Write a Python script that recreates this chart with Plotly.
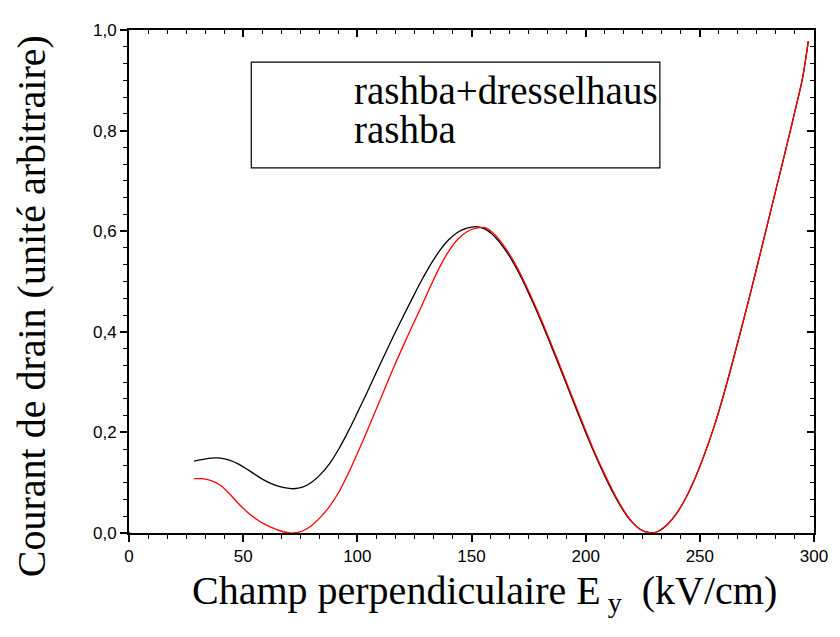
import plotly.graph_objects as go

# Drain current versus perpendicular field, two spin-orbit models
names = ["rashba+dresselhaus", "rashba"]
colors = ["#000000", "#ff0000"]

ey_rd = [28.5, 32, 36, 40, 44, 48, 52, 56, 60, 64, 68, 72, 76, 80, 84, 88, 92,
         96, 100, 104, 108, 112, 116, 120, 124, 128, 132, 136, 140, 144, 148,
         152, 156, 160, 164, 168, 172, 176, 180, 184, 188, 192, 196, 200, 204,
         208, 212, 216, 220, 224, 228.5, 232, 236, 240, 244, 248, 252, 256, 260,
         264, 268, 272, 276, 280, 284, 288, 292, 295, 297.5]
i_rd = [0.143, 0.146, 0.149, 0.149, 0.145, 0.137, 0.126, 0.114, 0.103, 0.095,
        0.090, 0.088, 0.091, 0.101, 0.117, 0.139, 0.168, 0.202, 0.239, 0.277,
        0.316, 0.355, 0.393, 0.430, 0.466, 0.501, 0.533, 0.561, 0.583, 0.598,
        0.606, 0.609, 0.604, 0.590, 0.568, 0.540, 0.506, 0.467, 0.426, 0.382,
        0.337, 0.291, 0.245, 0.200, 0.157, 0.117, 0.080, 0.048, 0.023, 0.007,
        0.000, 0.004, 0.018, 0.040, 0.071, 0.110, 0.156, 0.208, 0.268, 0.334,
        0.403, 0.474, 0.547, 0.621, 0.695, 0.769, 0.845, 0.905, 0.978]

ey_r = [28.5, 32, 36, 40, 44, 48, 52, 56, 60, 64, 68, 72, 76, 80, 84, 88, 92,
        96, 100, 104, 108, 112, 116, 120, 124, 128, 132, 136, 140, 144, 148,
        152, 156, 160, 164, 168, 172, 176, 180, 184, 188, 192, 196, 200, 204,
        208, 212, 216, 220, 224, 228.5, 232, 236, 240, 244, 248, 252, 256, 260,
        264, 268, 272, 276, 280, 284, 288, 292, 295, 297.5]
i_r = [0.108, 0.108, 0.104, 0.095, 0.078, 0.058, 0.041, 0.027, 0.016, 0.008,
       0.002, 0.000, 0.004, 0.015, 0.032, 0.054, 0.082, 0.118, 0.158, 0.200,
       0.243, 0.287, 0.330, 0.371, 0.411, 0.450, 0.490, 0.528, 0.560, 0.584,
       0.599, 0.606, 0.607, 0.594, 0.572, 0.544, 0.510, 0.471, 0.430, 0.386,
       0.341, 0.295, 0.249, 0.204, 0.160, 0.120, 0.083, 0.050, 0.024, 0.007,
       0.000, 0.004, 0.018, 0.040, 0.071, 0.110, 0.156, 0.208, 0.268, 0.334,
       0.403, 0.474, 0.547, 0.621, 0.695, 0.769, 0.845, 0.905, 0.978]

# stray origin point of the rashba set
origin_x = [0]
origin_y = [0]

x_ticks = [0, 50, 100, 150, 200, 250, 300]
y_ticks = [0.0, 0.2, 0.4, 0.6, 0.8, 1.0]

x_title = "Champ perpendiculaire E<sub> y</sub>  (kV/cm)"
y_title = "Courant de drain (unité arbitraire)"

SERIF = "Liberation Serif, Times New Roman, serif"
SANS = "Liberation Sans, Arial, sans-serif"

fig = go.Figure()
for xs, ys, name, col in [(ey_rd, i_rd, names[0], colors[0]),
                          (ey_r, i_r, names[1], colors[1])]:
    fig.add_trace(go.Scatter(x=xs, y=ys, mode="lines", name=name,
                             line=dict(color=col, width=1.3, shape="spline",
                                       smoothing=1.0),
                             showlegend=False))
fig.add_trace(go.Scatter(x=origin_x, y=origin_y, mode="markers",
                         marker=dict(color=colors[1], size=3),
                         cliponaxis=False, showlegend=False, hoverinfo="skip"))

# empty trace that carries the top/right frame axes
fig.add_trace(go.Scatter(x=[None], y=[None], xaxis="x2", yaxis="y2",
                         showlegend=False, hoverinfo="skip"))

tick_font = dict(family=SANS, size=17, color="#000")
minor_out = dict(ticks="outside", ticklen=4, tickwidth=1.2, tickcolor="#000",
                 showgrid=False)
minor_in = dict(ticks="inside", ticklen=4, tickwidth=1.2, tickcolor="#000",
                showgrid=False)

fig.update_layout(
    width=840, height=637,
    margin=dict(l=129, r=18, t=30, b=104),
    paper_bgcolor="white", plot_bgcolor="white",
    separators=", ",
    xaxis=dict(range=[0, 300], tickvals=x_ticks, ticks="outside", ticklen=7,
               tickwidth=1.5, tickcolor="#000", showline=True, linewidth=2,
               linecolor="#000", showgrid=False, zeroline=False,
               tickfont=tick_font, minor=dict(dtick=50 / 6, tick0=0, **minor_out)),
    yaxis=dict(range=[0, 1.0], tickvals=y_ticks, tickformat=".1f",
               ticks="outside", ticklen=7, tickwidth=1.5, tickcolor="#000",
               showline=True, linewidth=2, linecolor="#000", showgrid=False,
               zeroline=False, tickfont=tick_font,
               minor=dict(dtick=0.2 / 6, tick0=0, **minor_out)),
    xaxis2=dict(range=[0, 300], overlaying="x", side="top", anchor="y2",
                tickvals=x_ticks, ticks="inside", ticklen=7, tickwidth=1.5,
                tickcolor="#000", showticklabels=False, showline=True,
                linewidth=2, linecolor="#000", showgrid=False, zeroline=False,
                minor=dict(dtick=50 / 6, tick0=0, **minor_in)),
    yaxis2=dict(range=[0, 1.0], overlaying="y", side="right", anchor="x2",
                tickvals=y_ticks, ticks="inside", ticklen=7, tickwidth=1.5,
                tickcolor="#000", showticklabels=False, showline=True,
                linewidth=2, linecolor="#000", showgrid=False, zeroline=False,
                minor=dict(dtick=0.2 / 6, tick0=0, **minor_in)),
)

# axis titles
fig.add_annotation(text=x_title, xref="paper", yref="paper", x=0.5195,
                   y=-0.066, xanchor="center", yanchor="top", showarrow=False,
                   font=dict(family=SERIF, size=40, color="#000"))
fig.add_annotation(text=y_title, xref="paper", yref="paper", x=-0.143,
                   y=0.451, xanchor="center", yanchor="middle", showarrow=False,
                   textangle=-90, font=dict(family=SERIF, size=40, color="#000"))

# legend box with the series names
fig.add_shape(type="rect", xref="paper", yref="paper",
              x0=0.1785, x1=0.775, y0=0.726, y1=0.936,
              line=dict(color="#000", width=1.2), fillcolor="white", layer="above")
for name, yy in zip(names, [0.880, 0.802]):
    fig.add_annotation(text=name, xref="paper", yref="paper", x=0.326, y=yy,
                       xanchor="left", yanchor="middle", showarrow=False,
                       font=dict(family=SERIF, size=39, color="#000"))

fig.write_html("out.html")
